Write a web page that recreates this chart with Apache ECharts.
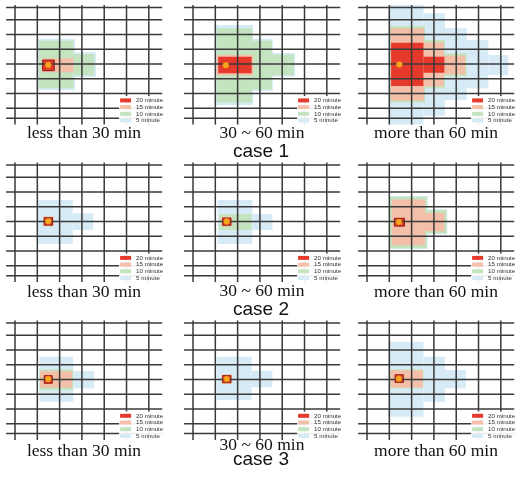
<!DOCTYPE html>
<html><head><meta charset="utf-8">
<script src="https://cdn.jsdelivr.net/npm/echarts@6/dist/echarts.min.js"></script>
<style>html,body{margin:0;padding:0;background:#fff}#c{width:522px;height:478px}</style>
</head><body><div id="c"></div><script>
// ---- data ----
const columnTitles = ['less than 30 min', '30 ~ 60 min', 'more than 60 min'];
const caseTitles = ['case 1', 'case 2', 'case 3'];
const levelNames = ['5 minute', '10 minute', '15 minute', '20 minute'];
const legendOrder = ['20 minute', '15 minute', '10 minute', '5 minute'];
const gridLinesX = [0, 1, 2, 3, 4, 5, 6];
const gridLinesY = [0.17, 1, 2, 3, 4, 5, 6, 7, 7.67];

// region rectangles per level [x0, x1, y0, y1] in grid-cell units, order: 5, 10, 15, 20 minute
const case1Under30 = [
  [[1.0, 2.69, 2.3, 5.78], [2.69, 3.63, 3.2, 4.88]],
  [[1.07, 2.62, 2.42, 5.64], [2.62, 3.55, 3.32, 4.76]],
  [[1.2, 2.62, 3.6, 4.55]],
  [[1.24, 1.76, 3.73, 4.45]]
];
const case1Mid = [
  [[1.02, 2.7, 1.35, 6.78], [2.7, 3.58, 2.3, 5.83], [3.58, 4.58, 3.25, 4.85]],
  [[1.07, 2.65, 1.58, 6.6], [2.65, 3.53, 2.42, 5.72], [3.53, 4.52, 3.36, 4.76]],
  [[1.06, 2.7, 3.39, 4.75]],
  [[1.13, 2.63, 3.5, 4.63]]
];
const case1Over60 = [
  [[0.96, 2.53, 0, 8.1], [2.53, 3.5, 0.56, 7.5], [3.5, 4.47, 1.58, 6.45], [4.47, 5.44, 2.37, 5.66], [5.44, 6.34, 3.39, 4.74]],
  [[1.03, 2.6, 1.42, 6.6], [2.6, 3.5, 2.37, 5.65], [3.5, 4.47, 3.27, 4.83]],
  [[1.06, 2.56, 1.58, 6.47], [2.56, 3.44, 2.52, 5.52], [3.44, 4.4, 3.42, 4.7]],
  [[1.08, 2.53, 2.55, 5.49], [2.53, 3.47, 3.5, 4.59]]
];
const case2Under30 = [
  [[1.04, 2.59, 2.54, 5.52], [2.59, 3.51, 3.44, 4.57]],
  [],
  [[1.25, 1.75, 3.65, 4.33]],
  [[1.31, 1.68, 3.74, 4.24]]
];
const case2Mid = [
  [[1.11, 2.66, 2.54, 5.52], [2.66, 3.56, 3.49, 4.57]],
  [[1.18, 2.63, 3.49, 4.57]],
  [[1.27, 1.76, 3.68, 4.33]],
  [[1.33, 1.7, 3.76, 4.25]]
];
const case2Over60 = [
  [[1.0, 2.72, 2.26, 5.86], [2.72, 3.6, 3.17, 4.86]],
  [[1.03, 2.68, 2.32, 5.81], [2.68, 3.57, 3.22, 4.8]],
  [[1.11, 2.6, 2.5, 5.6], [2.6, 3.47, 3.42, 4.65]],
  [[1.23, 1.68, 3.78, 4.31]]
];
const case3Under30 = [
  [[1.09, 2.61, 2.46, 5.51], [2.61, 3.54, 3.43, 4.6]],
  [[1.09, 2.61, 3.31, 4.72]],
  [[1.12, 2.56, 3.45, 4.55]],
  [[1.31, 1.67, 3.74, 4.26]]
];
const case3Mid = [
  [[1.06, 2.63, 2.46, 5.39], [2.63, 3.56, 3.41, 4.53]],
  [],
  [[1.27, 1.76, 3.66, 4.3]],
  [[1.33, 1.7, 3.74, 4.22]]
];
const case3Over60 = [
  [[0.96, 2.53, 1.44, 6.52], [2.53, 3.5, 2.46, 5.51], [3.5, 4.43, 3.36, 4.6]],
  [[1.03, 2.53, 3.31, 4.62]],
  [[1.06, 2.5, 3.38, 4.55]],
  [[1.26, 1.63, 3.68, 4.2]]
];
const sourcePoints = [
  [1.49, 4.06], [1.47, 4.08], [1.45, 4.03],
  [1.49, 3.98], [1.51, 3.99], [1.43, 4.03],
  [1.49, 3.97], [1.51, 3.97], [1.43, 3.95]
];

// ---- build ----
const panels = [case1Under30, case1Mid, case1Over60, case2Under30, case2Mid, case2Over60, case3Under30, case3Mid, case3Over60];
const levelColors = {'5 minute': '#d6ebf6', '10 minute': '#c4e3bf', '15 minute': '#f4bfa9', '20 minute': '#e5392c'};
const colLeft = [6.1, 184.1, 358.1];
const rowTop = [5.05, 162.55, 320.45];
const GW = 156.1, GH = 119.5;

const grid = [], xAxis = [], yAxis = [], series = [], legend = [], title = [];

function rectItem(params, api) {
  const p0 = api.coord([api.value(0), api.value(2)]);
  const p1 = api.coord([api.value(1), api.value(3)]);
  const x = Math.min(p0[0], p1[0]), y = Math.min(p0[1], p1[1]);
  const w = Math.abs(p1[0] - p0[0]), h = Math.abs(p1[1] - p0[1]);
  const small = w < 14;
  return {type: 'rect', shape: {x, y, width: w, height: h},
    style: {fill: api.visual('color'), stroke: small && api.visual('color') === '#e5392c' ? '#8e1d12' : null, lineWidth: 1}};
}
function vLine(params, api) {
  const cs = params.coordSys;
  const x = api.coord([api.value(0), 0])[0];
  return {type: 'line', shape: {x1: x, y1: cs.y, x2: x, y2: cs.y + cs.height}, style: {stroke: '#3a3a3a', lineWidth: 1.5}};
}
function hLine(params, api) {
  const cs = params.coordSys;
  const y = api.coord([0, api.value(0)])[1];
  return {type: 'line', shape: {x1: cs.x, y1: y, x2: cs.x + cs.width, y2: y}, style: {stroke: '#3a3a3a', lineWidth: 1.5}};
}

panels.forEach((levels, i) => {
  const r = Math.floor(i / 3), c = i % 3;
  grid.push({left: colLeft[c], top: rowTop[r], width: GW, height: GH});
  xAxis.push({gridIndex: i, type: 'value', min: -0.4, max: 6.6, show: false});
  yAxis.push({gridIndex: i, type: 'value', min: 0, max: 8.1, inverse: true, show: false});
  levels.forEach((rects, li) => {
    series.push({
      type: 'custom', name: levelNames[li], xAxisIndex: i, yAxisIndex: i, z: 1 + li * 0.01,
      dimensions: ['x0', 'x1', 'y0', 'y1'], encode: {x: [0, 1], y: [2, 3]},
      itemStyle: {color: levelColors[levelNames[li]]},
      renderItem: rectItem, data: rects, silent: true
    });
  });
  series.push({type: 'custom', xAxisIndex: i, yAxisIndex: i, z: 3, encode: {x: 0}, renderItem: vLine,
    data: gridLinesX.map(v => [v]), silent: true});
  series.push({type: 'custom', xAxisIndex: i, yAxisIndex: i, z: 3, encode: {y: 0}, renderItem: hLine,
    data: gridLinesY.map(v => [v]), silent: true});
  series.push({type: 'scatter', xAxisIndex: i, yAxisIndex: i, z: 4, symbolSize: 6,
    itemStyle: {color: '#f8a61f', borderColor: '#e8830f', borderWidth: 0.6, opacity: 1},
    data: [sourcePoints[i]], silent: true});
  legend.push({
    data: legendOrder, left: colLeft[c] + 113, top: rowTop[r] + 91, orient: 'vertical',
    itemWidth: 11, itemHeight: 4, itemGap: 0, icon: 'rect', selectedMode: false,
    padding: [1, 2, 1, 1], backgroundColor: 'rgba(255,255,255,0.92)', z: 10,
    textStyle: {fontSize: 6.2, lineHeight: 6.7, color: '#333', fontFamily: 'Liberation Sans'}
  });
});

const captionCenters = [84, 262, 436];
const captionTops = [[124.6, 124.6, 124.6], [283.6, 282.6, 283.6], [442, 436.5, 442]];
const caseTops = [141.9, 300.4, 450.5];
caseTitles.forEach((ct, r) => {
  columnTitles.forEach((t, c) => {
    title.push({text: t, left: captionCenters[c], top: captionTops[r][c], textAlign: 'center', padding: 0,
      textStyle: {fontFamily: 'Liberation Serif', fontSize: 17.5, fontWeight: 'normal', color: '#111'}});
  });
  title.push({text: ct, left: 261, top: caseTops[r], textAlign: 'center', padding: 0,
    textStyle: {fontFamily: 'Liberation Sans', fontSize: 19, fontWeight: 'normal', color: '#111'}});
});

const chart = echarts.init(document.getElementById('c'), null, {renderer: 'canvas'});
chart.setOption({animation: false, backgroundColor: '#fff', grid, xAxis, yAxis, series, legend, title});
</script></body></html>
